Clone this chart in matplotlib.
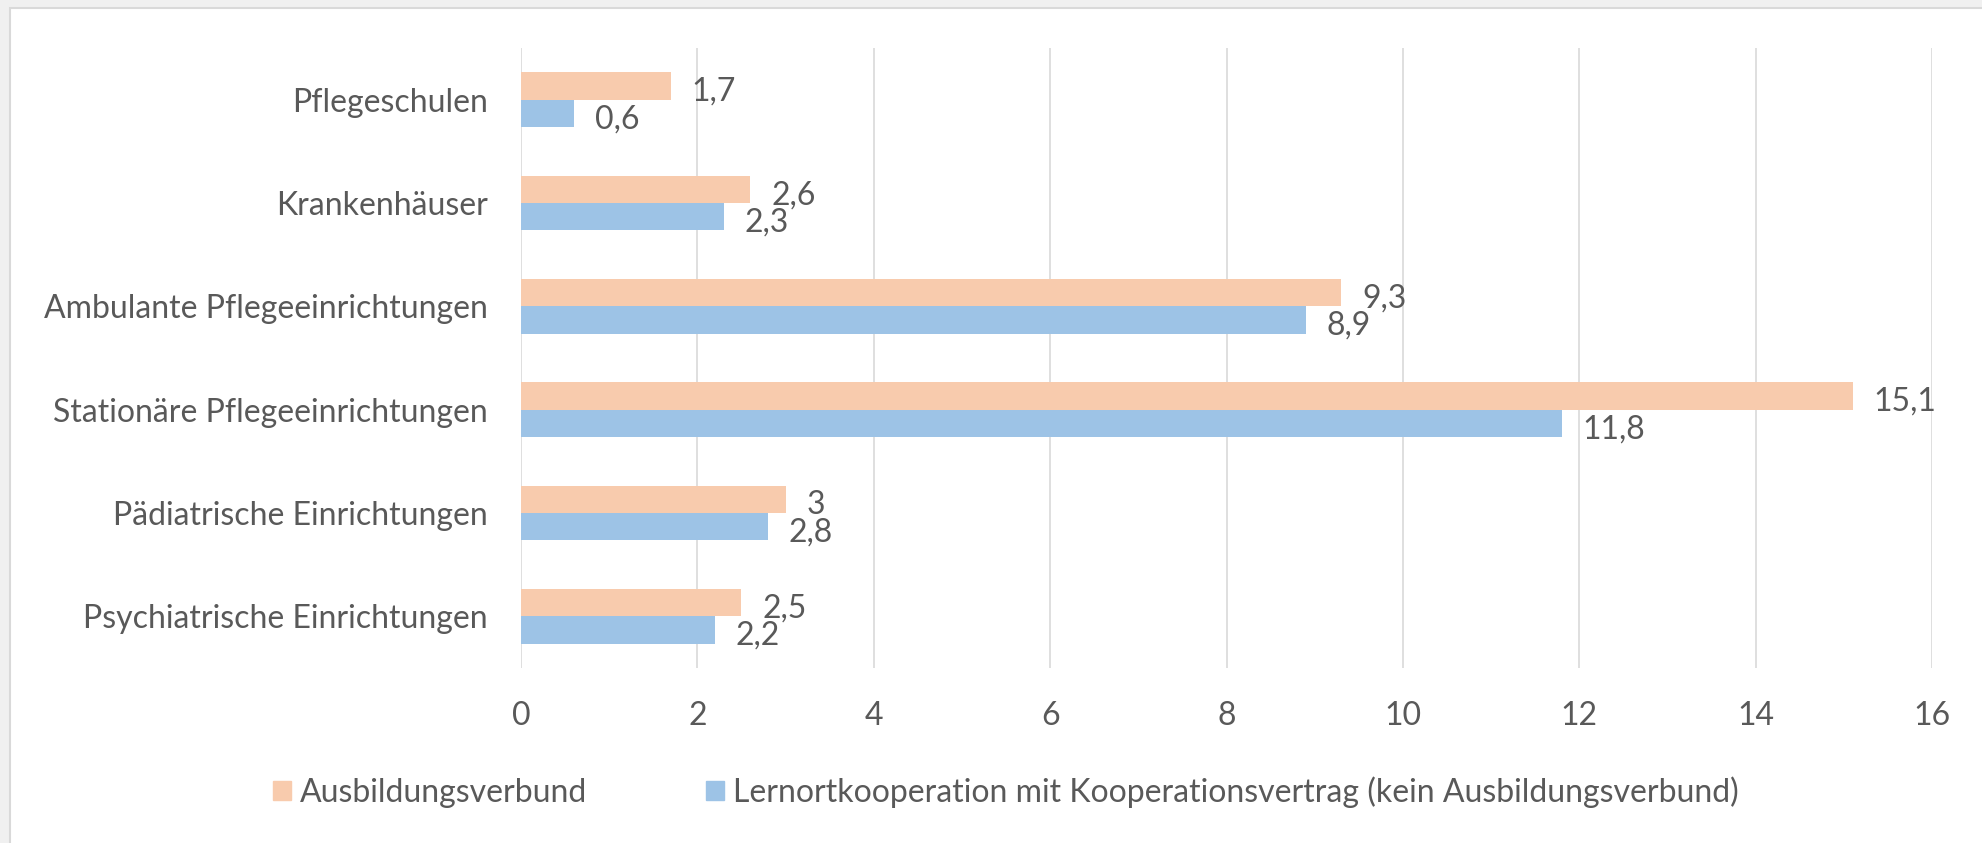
import matplotlib
matplotlib.use('Agg')
import matplotlib.pyplot as plt
import matplotlib.patches as mpatches
import numpy as np

plt.rcParams['font.family'] = ['Lato', 'DejaVu Sans']

categories = ['Pflegeschulen', 'Krankenhäuser', 'Ambulante Pflegeeinrichtungen',
              'Stationäre Pflegeeinrichtungen', 'Pädiatrische Einrichtungen',
              'Psychiatrische Einrichtungen']
verbund = [1.7, 2.6, 9.3, 15.1, 3.0, 2.5]
kooperation = [0.6, 2.3, 8.9, 11.8, 2.8, 2.2]
series_names = ['Ausbildungsverbund',
                'Lernortkooperation mit Kooperationsvertrag (kein Ausbildungsverbund)']
x_ticks = [0, 2, 4, 6, 8, 10, 12, 14, 16]

ORANGE = '#F8CBAD'
BLUE = '#9DC3E6'
TEXT = '#595959'
GRID = '#D9D9D9'
FS = 23

W, H = 1983, 843
fig = plt.figure(figsize=(W / 100, H / 100), dpi=100)
fig.patch.set_facecolor('#F0F0F0')
# white chart area, picture is cropped so only top and left border show
fig.add_artist(mpatches.Rectangle((10 / W, -0.1), 2.0, 1.1 - 8 / H, transform=fig.transFigure,
                                  facecolor='white', edgecolor=GRID, lw=1.5, zorder=0))

ax = fig.add_axes([521 / W, 1 - 668 / H, (1932 - 521) / W, (668 - 48) / H])
ax.set_facecolor('none')

def fmt(v):
    s = f'{v:.1f}'.replace('.', ',')
    return s[:-2] if s.endswith(',0') else s

y = np.arange(len(categories))
bar_h = 0.265
ax.barh(y - bar_h / 2, verbund, height=bar_h, color=ORANGE, zorder=2)
ax.barh(y + bar_h / 2, kooperation, height=bar_h, color=BLUE, zorder=2)

for vals, dy in [(verbund, -bar_h / 2), (kooperation, bar_h / 2)]:
    for yi, v in zip(y, vals):
        ax.annotate(fmt(v), (v, yi + dy), xytext=(15, -2), textcoords='offset points',
                    ha='left', va='center_baseline', fontsize=FS, color=TEXT)

ax.set_ylim(len(categories) - 0.5, -0.5)
ax.set_xlim(0, 16)
ax.set_xticks(x_ticks)
ax.set_xticklabels([str(t) for t in x_ticks])
ax.set_yticks(y)
ax.set_yticklabels(categories)
ax.tick_params(axis='both', length=0, labelsize=FS, labelcolor=TEXT)
ax.tick_params(axis='x', pad=24)
ax.tick_params(axis='y', pad=24)
ax.grid(axis='x', color=GRID, lw=1.2, zorder=0)
ax.set_axisbelow(True)
for s in ax.spines.values():
    s.set_visible(False)

handles = [mpatches.Patch(color=ORANGE, label=series_names[0]),
           mpatches.Patch(color=BLUE, label=series_names[1])]
fig.legend(handles=handles, loc='center', bbox_to_anchor=(1006 / W, 1 - 792 / H), ncol=2,
           frameon=False, fontsize=FS, labelcolor=TEXT, handlelength=0.56,
           handleheight=0.56, handletextpad=0.3, columnspacing=3.7)

fig.savefig('out.png', dpi=100, facecolor=fig.get_facecolor())
